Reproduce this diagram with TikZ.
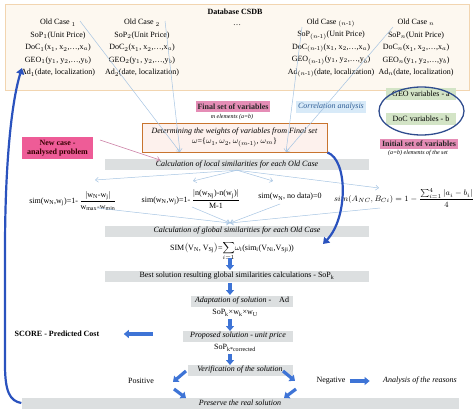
\documentclass[tikz,border=0pt]{standalone}
\usepackage{amsmath}
\usepackage{fontspec}
\setmainfont{Liberation Serif}
\usepackage{tikz}
\usetikzlibrary{arrows.meta,shapes.geometric}
\definecolor{dbfill}{HTML}{FDF8F0}
\definecolor{dbline}{HTML}{F2D5B0}
\definecolor{pinkbox}{HTML}{E58DB6}
\definecolor{hotpink}{HTML}{EE5C97}
\definecolor{corrfill}{HTML}{D8EAF8}
\definecolor{corrtext}{HTML}{2F5E96}
\definecolor{wline}{HTML}{C8742E}
\definecolor{wfill}{HTML}{FDF1ED}
\definecolor{greenbox}{HTML}{D3E4C6}
\definecolor{ellline}{HTML}{2F4C8E}
\definecolor{bargray}{HTML}{DCDFE0}
\definecolor{thinblue}{HTML}{A6C4E2}
\definecolor{thinpink}{HTML}{C9789F}
\definecolor{fatblue}{HTML}{3E74D6}
\definecolor{curveblue}{HTML}{2A52BE}
\newcommand{\fs}{\fontsize{8}{9.5}\selectfont}
\newcommand{\fss}{\fontsize{6}{7}\selectfont}
\tikzset{every node/.style={font=\fs, inner sep=1pt},
    bar/.style={fill=bargray, minimum width=264pt, minimum height=11pt, inner sep=0pt, font=\fs\itshape},
    tag/.style={fill=pinkbox, minimum height=11pt, inner sep=2pt, font=\fs\bfseries, text=black!85},
    oldcase/.style={align=center, font=\fontsize{8}{12.5}\selectfont},
    greenbar/.style={fill=greenbox, minimum width=70pt, minimum height=12pt, inner sep=0pt},
    note/.style={font=\fss\itshape},
    thinline/.style={draw=thinblue, line width=0.5pt, -{Straight Barb[length=3pt,width=5pt]}},
    pinkline/.style={draw=thinpink, line width=0.5pt, -{Straight Barb[length=3pt,width=5pt]}},
    fat/.style={draw=fatblue, line width=3.2pt, -{Triangle[length=5pt,width=8pt]}},
    bigcurve/.style={draw=curveblue, line width=2.2pt, -{Triangle[length=6pt,width=8pt]}}}

\begin{document}
\begin{tikzpicture}[x=1pt,y=-1pt]
    \useasboundingbox (0,0) rectangle (474,413);
    % database of old cases
    \node[draw=dbline, fill=dbfill, line width=1pt, minimum width=464pt, minimum height=86pt] (db) at (237,47) {};
    \node[font=\fs\bfseries] (dbtitle) at (235,12) {Database CSDB};
    \node[oldcase] (oc1) at (58,48) {Old Case $_1$\\SoP$_1$(Unit Price)\\DoC$_1$(x$_1$, x$_2$,\dots,x$_a$)\\GEO$_1$(y$_1$, y$_2$,\dots,y$_b$)\\Ad$_1$(date, localization)};
    \node[oldcase] (oc2) at (142,48) {Old Case $_2$\\SoP$_2$(Unit Price)\\DoC$_2$(x$_1$, x$_2$,\dots,x$_a$)\\GEO$_2$(y$_1$, y$_2$,\dots,y$_b$)\\Ad$_2$(date, localization)};
    \node (dots) at (237,25) {\dots};
    \node[oldcase] (ocm) at (331,48) {Old Case $_{(n\text{-}1)}$\\SoP$_{(n\text{-}1)}$(Unit Price)\\DoC$_{(n\text{-}1)}$(x$_1$, x$_2$,\dots,x$_a$)\\GEO$_{(n\text{-}1)}$(y$_1$, y$_2$,\dots,y$_b$)\\Ad$_{(n\text{-}1)}$(date, localization)};
    \node[oldcase] (ocn) at (416,48) {Old Case $_n$\\SoP$_n$(Unit Price)\\DoC$_n$(x$_1$, x$_2$,\dots,x$_a$)\\GEO$_n$(y$_1$, y$_2$,\dots,y$_b$)\\Ad$_n$(date, localization)};
    % variables
    \node[tag] (final) at (233,106.5) {Final set of variables};
    \node[note] (melem) at (232,117) {m elements (a=b)};
    \node[fill=corrfill, minimum height=12pt, inner sep=2pt, font=\fs\itshape, text=corrtext] (corr) at (331,107) {Correlation analysis};
    \node[draw=wline, fill=wfill, line width=1pt, minimum width=185pt, minimum height=29pt, align=center] (wts) at (234.5,137.5) {\textit{Determining the weights of variables from Final set}\\[1pt]$\omega$=\{$\omega_1$, $\omega_2$, $\omega_{(m\text{-}1)}$, $\omega_m$\}};
    \node[greenbar] (geo) at (421,94) {GEO variables - a};
    \node[greenbar] (doc) at (421,119) {DoC variables - b};
    \node[draw=ellline, line width=1.3pt, ellipse, minimum width=85pt, minimum height=48pt] (ell) at (421.5,111) {};
    \node[tag, minimum height=10pt] (initial) at (419,143.5) {Initial set of variables};
    \node[note] (aelem) at (418,153) {(a=b) elements of the set};
    \node[fill=hotpink, minimum width=71pt, minimum height=22pt, align=center, inner sep=0pt, font=\fs\bfseries, text=black!80!red] (nc) at (57.5,148) {New case -\\analysed problem};
    % local similarities
    \node[bar] (loc) at (237,164.5) {Calculation of local similarities for each Old Case};
    \node (f1) at (73,201) {sim(w$_\text{N}$,w$_\text{j}$)=1-\,$\dfrac{|\text{w}_\text{N}\text{-w}_\text{j}|}{\text{w}_\text{max}\text{-w}_\text{min}}$};
    \node (f2) at (191,199) {sim(w$_\text{N}$,w$_\text{j}$)=1-\,$\dfrac{|\text{n(w}_\text{Nj}\text{)-n(w}_\text{j}\text{)}|}{\text{M-1}}$};
    \node (f3) at (290,197) {sim(w$_\text{N}$, no data)=0};
    \node (f4) at (404,198) {$sim(A_{NC},B_{Ci})=1-\dfrac{\sum_{i=1}^{4}|a_i-b_i|}{4}$};
    % global similarities
    \node[bar] (glob) at (237,231) {Calculation of global similarities for each Old Case};
    \node[anchor=base] (simf) at (232,250) {SIM$\bigl($V$_\text{N}$, V$_\text{Sj}\bigr)$=$\displaystyle\sum_{i=1}$$\omega_\text{i}$(sim$_\text{i}$(V$_\text{Ni}$,V$_\text{Sji}$))};
    \node[bar, font=\fs] (best) at (237,276) {Best solution resulting global similarities calculations - SoP$_\text{k}$};
    \node[bar, minimum width=102pt] (adapt) at (242,301) {Adaptation of solution -\quad\upshape Ad};
    \node (sopk) at (235,313) {SoP$_\text{k}$×w$_\text{k}$×w$_\text{U}$};
    \node[bar, minimum width=110pt] (prop) at (238,336) {Proposed solution - unit price};
    \node (sopc) at (235,348) {SoP$_\text{k*corrected}$};
    \node[bar, minimum width=105pt] (ver) at (240,370) {Verification of the solution};
    \node (pos) at (141,381) {Positive};
    \node (neg) at (331,381) {Negative};
    \node[font=\fs\itshape] (reason) at (420,381) {Analysis of the reasons};
    \node[bar, minimum width=437pt] (pres) at (240,403) {Preserve the real solution};
    \node[font=\fs\bfseries] (score) at (57,334) {SCORE - Predicted Cost};
    % free ends
    \coordinate (c1) at (80,21);
    \coordinate (c2) at (165,21);
    \coordinate (cm) at (302,27);
    \coordinate (cn) at (393,27);
    \coordinate (wl) at (180,152);
    \coordinate (wr) at (286,152);
    \coordinate (nca) at (100,140);
    \coordinate (ncb) at (160,160);
    \coordinate (t1) at (95,180);
    \coordinate (t2) at (193,181);
    \coordinate (t3) at (273,181);
    \coordinate (t4) at (379,188);
    \coordinate (b1) at (97,208);
    \coordinate (b2) at (192,207);
    \coordinate (b3) at (280,204);
    \coordinate (b4) at (380,208);
    \coordinate (g) at (230,223);
    \coordinate (dbin) at (22,68);
    \coordinate (simin) at (323,244);
    % connectors
    \draw[thinline] (c1) -- (wl);
    \draw[thinline] (c2) -- (wl);
    \draw[thinline] (cm) -- (wr);
    \draw[thinline] (cn) -- (wr);
    \draw[pinkline] (nca) -- (ncb);
    \foreach \t in {t1,t2,t3,t4}
        \draw[thinline] (loc.south) -- (\t);
    \foreach \b in {b1,b2,b3,b4}
        \draw[thinline] (\b) -- (g);
    \draw[bigcurve] (wts.south east) .. controls (348,160) and (348,218) .. (simin);
    \draw[bigcurve] (pres.west) .. controls (10,401) and (5,392) .. (5,365) -- (5,250) .. controls (5,160) and (12,100) .. (dbin);
    \draw[fat] (230,258) -- (230,270);
    \draw[fat] (230,283) -- (230,295);
    \draw[fat] (230,319) -- (230,331);
    \draw[fat] (230,354) -- (230,365);
    \draw[fat] (186,371) -- (173,382);
    \draw[fat] (283,371) -- (295,381);
    \draw[fat] (174,389) -- (186,398);
    \draw[fat] (296,389) -- (284,398);
    \draw[fat] (neg.east) ++(3,0) -- ++(20,0);
    \draw[fat] (prop.west) ++(-30,-2) -- ++(-29,0);
\end{tikzpicture}
\end{document}
